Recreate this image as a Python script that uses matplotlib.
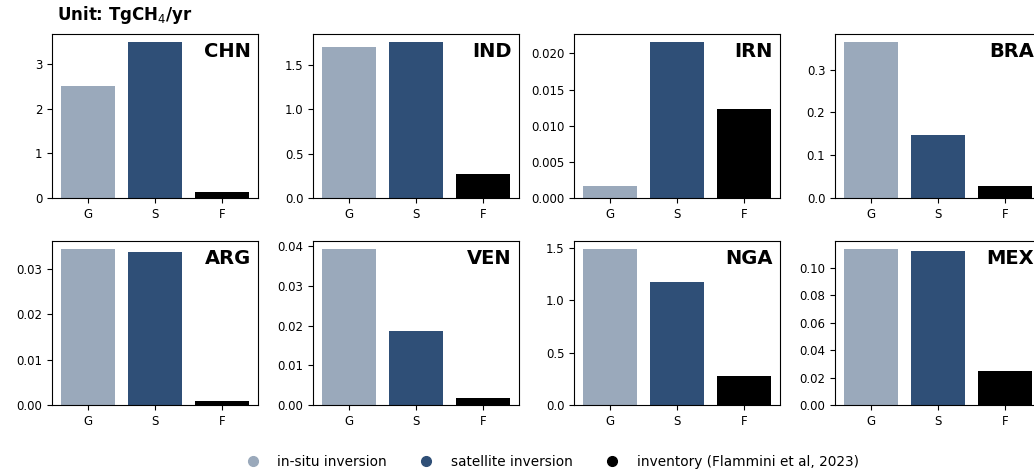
import matplotlib.pyplot as plt
from matplotlib.lines import Line2D
from matplotlib.ticker import MaxNLocator

# ---------------------------- Data ---------------------------- #
countries = ['CHN', 'IND', 'IRN', 'BRA', 'ARG', 'VEN', 'NGA', 'MEX']
sources = ['G', 'S', 'F']
insitu = [2.51, 1.70, 0.0016, 0.365, 0.0345, 0.0393, 1.49, 0.114]
satellite = [3.50, 1.76, 0.0216, 0.147, 0.0337, 0.0186, 1.17, 0.1125]
inventory = [0.14, 0.27, 0.0123, 0.027, 0.0009, 0.0018, 0.28, 0.025]
labels = ['in-situ inversion', 'satellite inversion', 'inventory (Flammini et al, 2023)']

colors = ['#9aa9bb', '#2f4f77', '#000000']

# ---------------------------- Plot ---------------------------- #
W, H = 1034, 473
fig = plt.figure(figsize=(W / 100, H / 100), dpi=100)

ax_w, ax_h = 206, 164
lefts = [52, 313, 574, 835]
tops = [34, 241]

for i, c in enumerate(countries):
    r, col = divmod(i, 4)
    ax = fig.add_axes([lefts[col] / W, 1 - (tops[r] + ax_h) / H, ax_w / W, ax_h / H])
    vals = [insitu[i], satellite[i], inventory[i]]
    ax.bar(sources, vals, color=colors, width=0.8)
    ax.yaxis.set_major_locator(MaxNLocator(nbins=7, steps=[1, 2, 5, 10]))
    ax.tick_params(labelsize=8.5)
    ax.text(0.965, 0.95, c, transform=ax.transAxes, ha='right', va='top',
            fontsize=14, fontweight='bold')

fig.text(57 / W, 1 - 15 / H, 'Unit: TgCH$_4$/yr', fontsize=12, fontweight='bold',
         ha='left', va='center')

handles = [Line2D([], [], marker='o', linestyle='', color=cl, markersize=7) for cl in colors]
fig.legend(handles, labels, loc='center', bbox_to_anchor=(549 / W, 1 - 462 / H),
           ncol=3, frameon=False, fontsize=9.8, columnspacing=1.9, handletextpad=0.8)

plt.savefig('out.png', dpi=100)
